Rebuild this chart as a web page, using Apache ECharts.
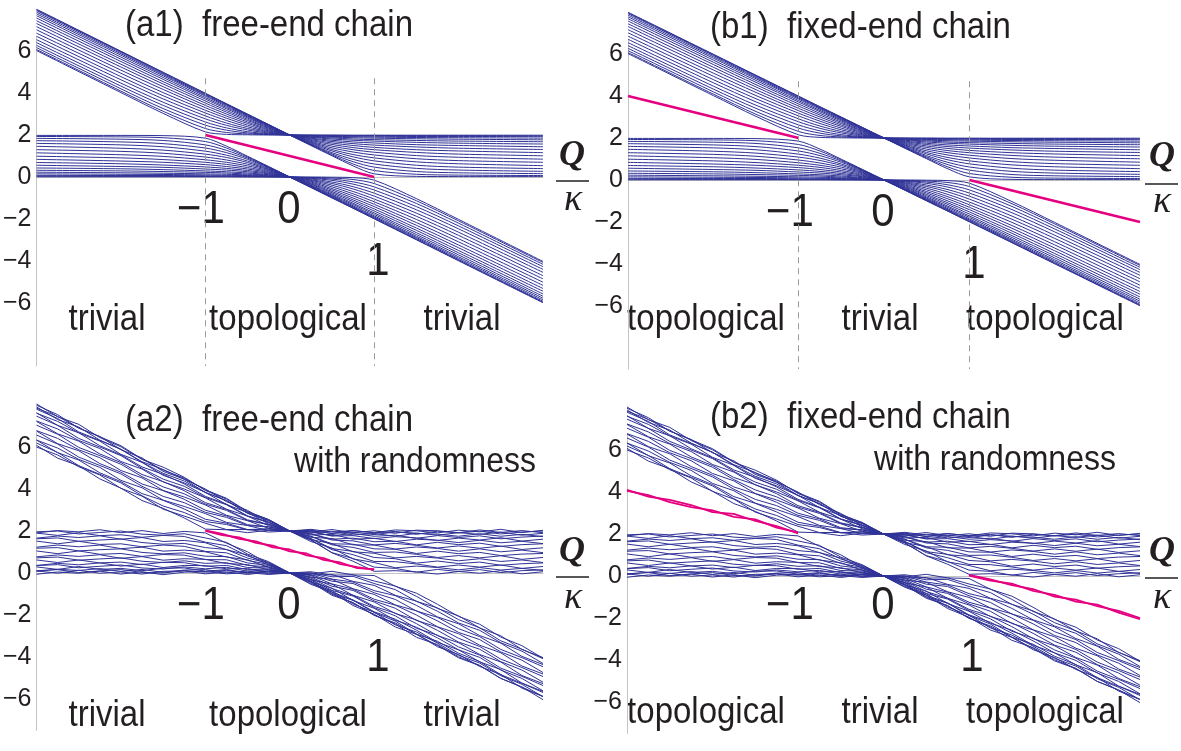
<!DOCTYPE html>
<html><head><meta charset="utf-8">
<script src="https://cdn.jsdelivr.net/npm/echarts@6/dist/echarts.min.js"></script>
<style>html,body{margin:0;padding:0;background:#fff}#c{width:1181px;height:751px}</style>
</head><body><div id="c"></div>
<script>
// ---------- data ----------
const xClean = [-3,-2,-1.5,-1,-0.75,-0.5,-0.25,0,0.25,0.5,0.75,1,1.5,2,3];
const upperClean = [
[6.02,4.02,3.03,2.15,2.03,2.01,2.00,2,2.00,2.00,1.99,1.99,1.99,1.99,1.99],
[6.07,4.09,3.13,2.31,2.12,2.05,2.02,2,1.99,1.98,1.98,1.98,1.97,1.97,1.96],
[6.16,4.20,3.26,2.47,2.23,2.10,2.04,2,1.98,1.96,1.95,1.94,1.93,1.93,1.92],
[6.27,4.33,3.41,2.62,2.34,2.16,2.06,2,1.96,1.93,1.92,1.90,1.88,1.87,1.85],
[6.40,4.47,3.56,2.77,2.46,2.24,2.09,2,1.94,1.90,1.87,1.85,1.82,1.80,1.77],
[6.54,4.63,3.72,2.91,2.57,2.31,2.13,2,1.91,1.86,1.81,1.78,1.74,1.71,1.68],
[6.70,4.78,3.87,3.05,2.69,2.39,2.16,2,1.89,1.81,1.75,1.71,1.65,1.61,1.57],
[6.85,4.94,4.02,3.18,2.80,2.47,2.20,2,1.85,1.75,1.67,1.62,1.54,1.50,1.44],
[7.01,5.09,4.17,3.30,2.90,2.55,2.24,2,1.82,1.69,1.59,1.52,1.43,1.37,1.31],
[7.16,5.24,4.30,3.41,3.00,2.62,2.28,2,1.78,1.62,1.50,1.41,1.30,1.24,1.16],
[7.31,5.37,4.43,3.52,3.09,2.69,2.32,2,1.74,1.55,1.40,1.30,1.17,1.09,1.01],
[7.44,5.50,4.54,3.62,3.17,2.75,2.35,2,1.70,1.47,1.30,1.18,1.02,0.94,0.85],
[7.57,5.61,4.65,3.71,3.25,2.81,2.39,2,1.66,1.39,1.19,1.05,0.87,0.78,0.70],
[7.68,5.71,4.74,3.78,3.31,2.86,2.41,2,1.63,1.31,1.07,0.91,0.72,0.63,0.54],
[7.77,5.80,4.82,3.85,3.37,2.90,2.44,2,1.59,1.24,0.96,0.77,0.56,0.47,0.40],
[7.85,5.87,4.88,3.90,3.42,2.93,2.46,2,1.56,1.16,0.84,0.62,0.41,0.33,0.27],
[7.92,5.93,4.93,3.94,3.45,2.96,2.48,2,1.54,1.10,0.73,0.47,0.26,0.20,0.16],
[7.96,5.97,4.97,3.98,3.48,2.98,2.49,2,1.52,1.05,0.62,0.31,0.13,0.09,0.07],
[7.99,5.99,4.99,3.99,3.49,3.00,2.50,2,1.50,1.01,0.53,0.15,0.03,0.02,0.02]
];
const lowerClean = [
[1.98,1.98,1.97,1.85,1.47,0.99,0.50,0,-0.50,-1.00,-1.49,-1.99,-2.99,-3.99,-5.99],
[1.93,1.91,1.87,1.69,1.38,0.95,0.48,0,-0.49,-0.98,-1.48,-1.98,-2.97,-3.97,-5.96],
[1.84,1.80,1.74,1.53,1.27,0.90,0.46,0,-0.48,-0.96,-1.45,-1.94,-2.93,-3.93,-5.92],
[1.73,1.67,1.59,1.38,1.16,0.84,0.44,0,-0.46,-0.93,-1.42,-1.90,-2.88,-3.87,-5.85],
[1.60,1.53,1.44,1.23,1.04,0.76,0.41,0,-0.44,-0.90,-1.37,-1.85,-2.82,-3.80,-5.77],
[1.46,1.37,1.28,1.09,0.93,0.69,0.37,0,-0.41,-0.86,-1.31,-1.78,-2.74,-3.71,-5.68],
[1.30,1.22,1.13,0.95,0.81,0.61,0.34,0,-0.39,-0.81,-1.25,-1.71,-2.65,-3.61,-5.57],
[1.15,1.06,0.98,0.82,0.70,0.53,0.30,0,-0.35,-0.75,-1.17,-1.62,-2.54,-3.50,-5.44],
[0.99,0.91,0.83,0.70,0.60,0.45,0.26,0,-0.32,-0.69,-1.09,-1.52,-2.43,-3.37,-5.31],
[0.84,0.76,0.70,0.59,0.50,0.38,0.22,0,-0.28,-0.62,-1.00,-1.41,-2.30,-3.24,-5.16],
[0.69,0.63,0.57,0.48,0.41,0.31,0.18,0,-0.24,-0.55,-0.90,-1.30,-2.17,-3.09,-5.01],
[0.56,0.50,0.46,0.38,0.33,0.25,0.15,0,-0.20,-0.47,-0.80,-1.18,-2.02,-2.94,-4.85],
[0.43,0.39,0.35,0.29,0.25,0.19,0.11,0,-0.16,-0.39,-0.69,-1.05,-1.87,-2.78,-4.70],
[0.32,0.29,0.26,0.22,0.19,0.14,0.09,0,-0.13,-0.31,-0.57,-0.91,-1.72,-2.63,-4.54],
[0.23,0.20,0.18,0.15,0.13,0.10,0.06,0,-0.09,-0.24,-0.46,-0.77,-1.56,-2.47,-4.40],
[0.15,0.13,0.12,0.10,0.08,0.07,0.04,0,-0.06,-0.16,-0.34,-0.62,-1.41,-2.33,-4.27],
[0.08,0.07,0.07,0.06,0.05,0.04,0.02,0,-0.04,-0.10,-0.23,-0.47,-1.26,-2.20,-4.16],
[0.04,0.03,0.03,0.02,0.02,0.02,0.01,0,-0.02,-0.05,-0.12,-0.31,-1.13,-2.09,-4.07],
[0.01,0.01,0.01,0.01,0.01,0.00,0.00,0,0.00,-0.01,-0.03,-0.15,-1.03,-2.02,-4.02]
];
const xNoisy = [-3,-2.75,-2.5,-2.25,-2,-1.75,-1.5,-1.25,-1,-0.75,-0.5,-0.25,0,0.25,0.5,0.75,1,1.25,1.5,1.75,2,2.25,2.5,2.75,3];
const upperNoisy = [
[6.08,5.47,5.11,4.48,4.04,3.45,3.08,2.62,2.09,2.06,1.92,2.04,2.00,2.08,1.95,2.02,1.92,2.05,2.01,1.91,2.04,1.96,2.08,1.93,2.03],
[6.00,5.62,5.06,4.67,4.03,3.66,3.04,2.71,2.37,2.07,2.07,1.95,2.00,1.95,2.07,1.92,2.01,1.89,2.04,2.01,1.92,2.05,1.93,2.02,1.92],
[6.19,5.74,5.11,4.70,4.29,3.68,3.19,2.88,2.45,2.31,2.05,2.10,2.00,2.03,1.88,2.02,1.91,1.98,1.84,1.99,1.91,1.99,1.86,1.95,2.00],
[6.33,5.73,5.38,4.77,4.35,3.78,3.46,3.05,2.56,2.37,2.07,2.10,2.00,2.04,1.88,1.95,1.83,1.95,1.90,1.80,1.92,1.84,1.95,1.80,1.89],
[6.33,5.95,5.41,5.03,4.41,4.06,3.47,3.17,2.83,2.41,2.26,2.02,2.00,1.90,1.99,1.81,1.88,1.75,1.89,1.85,1.75,1.87,1.75,1.84,1.73],
[6.57,6.14,5.52,5.12,4.72,4.13,3.65,3.35,2.89,2.65,2.26,2.19,2.00,1.96,1.78,1.88,1.75,1.80,1.65,1.78,1.69,1.77,1.63,1.71,1.76],
[6.76,6.16,5.82,5.21,4.80,4.24,3.92,3.51,2.99,2.72,2.30,2.20,2.00,1.97,1.76,1.78,1.64,1.73,1.67,1.55,1.66,1.57,1.68,1.52,1.61],
[6.78,6.41,5.87,5.49,4.88,4.53,3.93,3.62,3.24,2.75,2.49,2.13,2.00,1.81,1.84,1.61,1.65,1.50,1.61,1.56,1.45,1.56,1.44,1.51,1.40],
[7.04,6.61,5.98,5.59,5.18,4.59,4.10,3.77,3.28,2.98,2.50,2.30,2.00,1.87,1.61,1.66,1.49,1.51,1.34,1.46,1.35,1.42,1.27,1.35,1.39],
[7.22,6.63,6.28,5.67,5.26,4.69,4.35,3.92,3.35,3.03,2.53,2.32,2.00,1.86,1.57,1.53,1.34,1.41,1.32,1.19,1.29,1.18,1.28,1.12,1.20],
[7.24,6.86,6.31,5.93,5.31,4.95,4.34,4.00,3.58,3.04,2.71,2.25,2.00,1.70,1.64,1.34,1.33,1.14,1.24,1.17,1.04,1.15,1.01,1.09,0.97],
[7.47,7.03,6.41,6.00,5.59,4.98,4.47,4.13,3.60,3.25,2.70,2.41,2.00,1.75,1.39,1.37,1.15,1.13,0.93,1.04,0.92,0.98,0.83,0.90,0.93],
[7.63,7.03,6.68,6.06,5.63,5.05,4.70,4.24,3.65,3.28,2.72,2.43,2.00,1.74,1.34,1.22,0.98,1.00,0.89,0.74,0.83,0.72,0.82,0.65,0.74],
[7.61,7.22,6.67,6.28,5.65,5.27,4.65,4.29,3.84,3.26,2.88,2.34,2.00,1.59,1.40,1.01,0.94,0.72,0.79,0.71,0.58,0.68,0.55,0.62,0.50],
[7.80,7.36,6.72,6.31,5.89,5.27,4.75,4.38,3.83,3.45,2.85,2.50,2.00,1.64,1.16,1.03,0.74,0.68,0.47,0.57,0.45,0.52,0.37,0.44,0.48],
[7.91,7.31,6.95,6.33,5.89,5.30,4.93,4.46,3.84,3.45,2.84,2.50,2.00,1.64,1.11,0.87,0.55,0.54,0.43,0.28,0.38,0.28,0.38,0.22,0.31],
[7.85,7.46,6.90,6.50,5.87,5.48,4.84,4.47,4.00,3.40,2.98,2.41,2.00,1.50,1.19,0.67,0.50,0.25,0.33,0.26,0.15,0.26,0.14,0.22,0.12],
[7.99,7.54,6.90,6.49,6.06,5.43,4.90,4.52,3.96,3.56,2.93,2.55,2.00,1.57,0.97,0.69,0.28,0.22,0.04,0.17,0.07,0.16,0.02,0.11,0.15],
[8.05,7.44,7.08,6.45,6.01,5.41,5.04,4.56,3.93,3.52,2.91,2.54,2.00,1.58,0.96,0.56,0.08,0.11,0.05,-0.05,0.07,-0.01,0.11,-0.04,0.06]
];
const lowerNoisy = [
[1.91,2.02,1.96,2.06,1.92,2.02,1.88,1.98,1.91,1.42,1.01,0.43,0.00,-0.54,-0.91,-1.55,-1.96,-2.57,-2.92,-3.45,-4.04,-4.41,-5.02,-5.43,-6.03],
[1.96,2.00,1.86,1.93,2.00,1.85,1.80,1.87,1.67,1.46,0.90,0.54,0.00,-0.44,-1.06,-1.41,-2.01,-2.43,-3.06,-3.41,-3.99,-4.40,-5.02,-5.43,-5.88],
[1.90,1.79,1.92,1.78,1.82,1.70,1.79,1.74,1.47,1.30,0.81,0.50,0.00,-0.40,-1.01,-1.42,-2.01,-2.38,-2.91,-3.51,-3.88,-4.45,-4.83,-5.48,-5.88],
[1.66,1.76,1.69,1.77,1.61,1.69,1.50,1.55,1.44,1.11,0.86,0.37,0.00,-0.50,-0.84,-1.48,-1.87,-2.47,-2.81,-3.34,-3.92,-4.29,-4.89,-5.30,-5.89],
[1.63,1.67,1.51,1.57,1.62,1.45,1.37,1.41,1.21,1.12,0.71,0.47,0.00,-0.39,-0.98,-1.30,-1.88,-2.29,-2.91,-3.25,-3.82,-4.22,-4.84,-5.25,-5.69],
[1.52,1.39,1.51,1.36,1.39,1.25,1.33,1.27,1.03,0.96,0.60,0.41,0.00,-0.33,-0.91,-1.28,-1.85,-2.20,-2.72,-3.30,-3.66,-4.23,-4.60,-5.24,-5.64],
[1.23,1.33,1.25,1.33,1.16,1.23,1.04,1.09,1.01,0.76,0.63,0.27,0.00,-0.43,-0.72,-1.31,-1.68,-2.25,-2.58,-3.09,-3.66,-4.02,-4.62,-5.02,-5.61],
[1.18,1.21,1.05,1.11,1.15,0.98,0.91,0.96,0.80,0.78,0.48,0.36,0.00,-0.30,-0.83,-1.10,-1.65,-2.04,-2.63,-2.96,-3.52,-3.91,-4.53,-4.92,-5.36],
[1.05,0.92,1.05,0.89,0.93,0.79,0.88,0.85,0.64,0.63,0.36,0.30,0.00,-0.24,-0.74,-1.06,-1.59,-1.91,-2.41,-2.98,-3.32,-3.88,-4.24,-4.88,-5.27],
[0.77,0.86,0.79,0.87,0.70,0.78,0.61,0.68,0.65,0.45,0.40,0.15,0.00,-0.32,-0.53,-1.06,-1.38,-1.93,-2.23,-2.73,-3.29,-3.63,-4.22,-4.62,-5.20],
[0.72,0.76,0.61,0.67,0.72,0.56,0.50,0.58,0.46,0.49,0.26,0.24,0.00,-0.19,-0.63,-0.83,-1.33,-1.68,-2.26,-2.57,-3.11,-3.50,-4.10,-4.50,-4.93],
[0.62,0.50,0.62,0.48,0.52,0.40,0.51,0.49,0.32,0.36,0.16,0.19,0.00,-0.12,-0.52,-0.77,-1.25,-1.53,-2.00,-2.56,-2.89,-3.44,-3.80,-4.43,-4.81],
[0.36,0.46,0.39,0.48,0.33,0.42,0.26,0.36,0.35,0.20,0.21,0.04,0.00,-0.20,-0.30,-0.75,-1.02,-1.52,-1.80,-2.28,-2.83,-3.17,-3.76,-4.15,-4.74],
[0.35,0.40,0.25,0.32,0.38,0.24,0.19,0.29,0.20,0.27,0.09,0.15,0.00,-0.08,-0.39,-0.50,-0.94,-1.26,-1.81,-2.11,-2.65,-3.03,-3.64,-4.03,-4.46],
[0.29,0.17,0.31,0.17,0.22,0.11,0.23,0.24,0.09,0.16,0.01,0.10,0.00,-0.01,-0.29,-0.43,-0.84,-1.08,-1.54,-2.09,-2.42,-2.98,-3.34,-3.97,-4.36],
[0.08,0.18,0.12,0.21,0.07,0.17,0.03,0.14,0.16,0.03,0.09,-0.03,0.00,-0.10,-0.07,-0.40,-0.59,-1.06,-1.34,-1.82,-2.38,-2.73,-3.32,-3.72,-4.31],
[0.11,0.16,0.02,0.10,0.16,0.03,0.00,0.11,0.04,0.13,-0.01,0.08,0.00,0.01,-0.18,-0.16,-0.50,-0.79,-1.35,-1.66,-2.22,-2.61,-3.23,-3.63,-4.08],
[0.10,-0.01,0.13,-0.01,0.05,-0.05,0.08,0.10,-0.04,0.05,-0.07,0.05,0.00,0.06,-0.10,-0.09,-0.38,-0.62,-1.11,-1.69,-2.04,-2.62,-2.99,-3.64,-4.03],
[-0.06,0.05,-0.01,0.09,-0.05,0.06,-0.08,0.04,0.07,-0.04,0.02,-0.07,0.00,-0.04,0.08,-0.09,-0.12,-0.63,-0.96,-1.49,-2.07,-2.44,-3.05,-3.46,-4.06]
];
// edge (boundary) states, magenta
const edgeFreeX = [-1, 1];
const edgeFreeY = [2, 0];
const edgeFixedLeftX = [-3, -1];
const edgeFixedLeftY = [4, 2];
const edgeFixedRightX = [1, 3];
const edgeFixedRightY = [0, -2];
const edgeNoisyFreeX = [-1,-0.8,-0.6,-0.4,-0.2,0,0.2,0.4,0.6,0.8,1];
const edgeNoisyFreeA = [2.03,1.86,1.62,1.51,1.22,1.12,0.84,0.71,0.42,0.28,0.15];
const edgeNoisyFreeB = [2.00,1.80,1.70,1.43,1.30,1.03,0.93,0.62,0.50,0.23,0.18];
const edgeNoisyLeftX = [-3,-2.75,-2.5,-2.25,-2,-1.75,-1.5,-1.25,-1];
const edgeNoisyLeftA = [4.10,3.78,3.62,3.38,3.04,2.96,2.62,2.38,2.03];
const edgeNoisyLeftB = [4.05,3.85,3.52,3.28,3.12,2.82,2.70,2.30,2.08];
const edgeNoisyRightX = [1,1.25,1.5,1.75,2,2.25,2.5,2.75,3];
const edgeNoisyRightA = [0.05,-0.16,-0.43,-0.62,-0.98,-1.13,-1.44,-1.66,-2.00];
const edgeNoisyRightB = [0.02,-0.22,-0.36,-0.71,-0.90,-1.22,-1.36,-1.74,-2.06];
// axes / labels
const phaseBoundaries = [-1, 1];
const yTicks = [-6, -4, -2, 0, 2, 4, 6];
const boundaryLabels = ['\u22121', '0', '1'];
const titles = ['(a1)  free-end chain', '(b1)  fixed-end chain', '(a2)  free-end chain', '(b2)  fixed-end chain'];
const phaseNamesFree = ['trivial', 'topological', 'trivial'];
const phaseNamesFixed = ['topological', 'trivial', 'topological'];
const subtitleText = 'with randomness';

// ---------- layout ----------
const BLUE = '#2f3296', PINK = '#e4007f', AXIS = '#c4c4c4', INK = '#231f20';
const SANS = "'Liberation Sans', Arial, Helvetica, sans-serif";
const SERIF = "'Liberation Serif', 'Times New Roman', serif";
const panels = [
  { grid: {left: 34, top: 36.3, width: 509, height: 329.7}, yMin: -9, dashBottom: -9, noisy: false, fixed: false,
    title: [125, 26], sub: null, phaseX: [107, 288, 462], phaseY: 320, tick: [[201, 210], [289, 210], [378, 262]],
    q: [572, 156], bar: [556, 589, 181], k: [573, 200] },
  { grid: {left: 628, top: 39.3, width: 512, height: 329.7}, yMin: -9, dashBottom: -9, noisy: false, fixed: true,
    title: [710, 28], sub: null, phaseX: [706, 880, 1045], phaseY: 320, tick: [[790, 213], [883, 213], [974, 265]],
    q: [1162, 157], bar: [1145, 1178, 184], k: [1162, 202] },
  { grid: {left: 34, top: 432.3, width: 509, height: 298.2}, yMin: -7.5, dashBottom: -8.5, noisy: true, fixed: false,
    title: [125, 421], sub: [415, 462], phaseX: [107, 288, 462], phaseY: 716, tick: [[201, 606], [289, 606], [378, 658]],
    q: [572, 552], bar: [556, 589, 577], k: [573, 598] },
  { grid: {left: 627, top: 435.3, width: 513, height: 298.2}, yMin: -7.5, dashBottom: -8.5, noisy: true, fixed: true,
    title: [710, 418], sub: [995, 460], phaseX: [706, 880, 1045], phaseY: 713, tick: [[790, 606], [883, 606], [972, 658]],
    q: [1162, 552], bar: [1145, 1178, 578], k: [1162, 598] }
];

function pairs(xs, ys) { return xs.map((x, i) => [x, ys[i]]); }
function txt(str, x, y, font, align, sy) {
  return { type: 'text', x: x, y: y, scaleX: 1, scaleY: sy || 1, silent: true,
    style: { text: str, font: font, fill: INK, align: align || 'center', verticalAlign: 'middle',
             textAlign: align || 'center', textVerticalAlign: 'middle' } };
}

const grids = [], xAxes = [], yAxes = [], series = [], graphics = [];
panels.forEach((p, gi) => {
  grids.push(Object.assign({containLabel: false}, p.grid));
  xAxes.push({ type: 'value', gridIndex: gi, min: -3, max: 3,
    axisLine: {show: true, onZero: true, lineStyle: {color: AXIS, width: 1}},
    axisTick: {show: false}, axisLabel: {show: false}, splitLine: {show: false} });
  yAxes.push({ type: 'value', gridIndex: gi, min: p.yMin, max: 6.7,
    axisLine: {show: true, onZero: false, lineStyle: {color: AXIS, width: 1}},
    axisTick: {show: false}, splitLine: {show: false},
    axisLabel: { customValues: yTicks, color: INK, fontSize: 25, fontFamily: SANS, margin: 5, padding: [10, 0, 0, 0],
      formatter: v => (v < 0 ? '\u2212' + (-v) : String(v)) } });

  const xs = p.noisy ? xNoisy : xClean;
  const bands = (p.noisy ? upperNoisy : upperClean).concat(p.noisy ? lowerNoisy : lowerClean);
  bands.forEach(line => series.push({ type: 'line', xAxisIndex: gi, yAxisIndex: gi, data: pairs(xs, line),
    symbol: 'none', smooth: p.noisy ? false : 0.3, clip: false, silent: true, z: 2,
    lineStyle: {color: BLUE, width: 1} }));

  const edges = [];
  if (!p.noisy && !p.fixed) edges.push([edgeFreeX, edgeFreeY]);
  if (!p.noisy && p.fixed) { edges.push([edgeFixedLeftX, edgeFixedLeftY]); edges.push([edgeFixedRightX, edgeFixedRightY]); }
  if (p.noisy && !p.fixed) { edges.push([edgeNoisyFreeX, edgeNoisyFreeA]); edges.push([edgeNoisyFreeX, edgeNoisyFreeB]); }
  if (p.noisy && p.fixed) {
    edges.push([edgeNoisyLeftX, edgeNoisyLeftA]); edges.push([edgeNoisyLeftX, edgeNoisyLeftB]);
    edges.push([edgeNoisyRightX, edgeNoisyRightA]); edges.push([edgeNoisyRightX, edgeNoisyRightB]);
  }
  edges.forEach(e => series.push({ type: 'line', xAxisIndex: gi, yAxisIndex: gi, data: pairs(e[0], e[1]),
    symbol: 'none', clip: false, silent: true, z: 4,
    lineStyle: {color: PINK, width: p.noisy ? 1.8 : 2.6} }));

  series.push({ type: 'line', xAxisIndex: gi, yAxisIndex: gi, data: [], clip: false, silent: true, z: 1,
    markLine: { silent: true, symbol: ['none', 'none'], label: {show: false},
      lineStyle: {color: '#9a9a9a', type: [6, 5], width: 1},
      data: phaseBoundaries.map(b => [{coord: [b, 4.7]}, {coord: [b, p.dashBottom]}]) } });

  graphics.push(txt(titles[gi], p.title[0], p.title[1], '33px ' + SANS, 'left', 1.1));
  if (p.sub) graphics.push(txt(subtitleText, p.sub[0], p.sub[1], '32px ' + SANS, 'center', 1.08));
  (p.fixed ? phaseNamesFixed : phaseNamesFree).forEach((n, i) => graphics.push(txt(n, p.phaseX[i], p.phaseY, '33px ' + SANS, 'center', 1.12)));
  boundaryLabels.forEach((n, i) => graphics.push(txt(n, p.tick[i][0], p.tick[i][1], '42px ' + SANS, 'center', 1.08)));
  graphics.push(txt('Q', p.q[0], p.q[1], 'italic bold 36px ' + SERIF));
  graphics.push(txt('\u03ba', p.k[0], p.k[1], 'italic 38px ' + SERIF));
  graphics.push({ type: 'line', silent: true, shape: {x1: p.bar[0], y1: p.bar[2], x2: p.bar[1], y2: p.bar[2]},
    style: {stroke: INK, lineWidth: 1.6} });
});

const chart = echarts.init(document.getElementById('c'), null, {renderer: 'canvas'});
chart.setOption({ animation: false, backgroundColor: '#ffffff',
  grid: grids, xAxis: xAxes, yAxis: yAxes, series: series, graphic: graphics });
</script>
</body></html>
